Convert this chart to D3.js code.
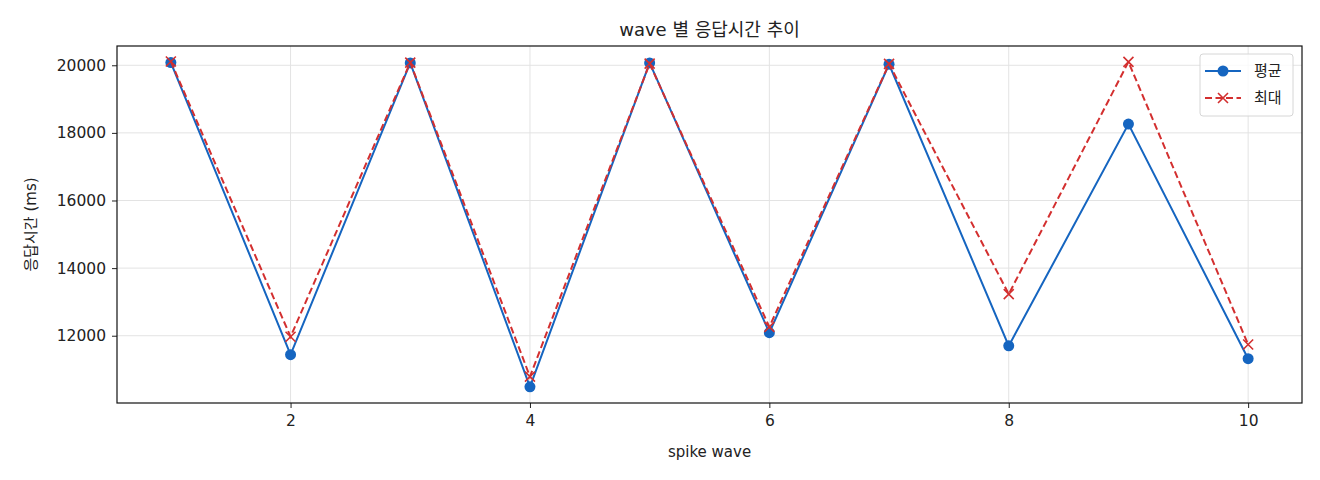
<!DOCTYPE html>
<html>
<head>
<meta charset="utf-8">
<script src="https://cdn.jsdelivr.net/npm/d3@7"></script>
<style>
  body { margin: 0; background: #fff; }
  svg text { font-family: "DejaVu Sans", "Noto Sans CJK KR", sans-serif; fill: #222; }
</style>
</head>
<body>
<svg id="chart" width="1320" height="480"></svg>
<script>
// spike wave index
var waves = [1, 2, 3, 4, 5, 6, 7, 8, 9, 10];
// response times (ms)
var avgMs = [20080, 11440, 20070, 10490, 20070, 12090, 20030, 11700, 18260, 11320];
var maxMs = [20110, 11970, 20080, 10790, 20050, 12260, 20040, 13230, 20100, 11740];
var xTicks = [2, 4, 6, 8, 10];
var yTicks = [12000, 14000, 16000, 18000, 20000];

var svg = d3.select('#chart');
var plotL = 117, plotR = 1302, plotT = 46, plotB = 403;
var fontStack = '"DejaVu Sans", "Noto Sans CJK KR", sans-serif';

var x = d3.scaleLinear().domain([0.55, 10.45]).range([plotL, plotR]);
var y = d3.scaleLinear().domain([10010, 20570]).range([plotB, plotT]);

var blue = "#1565c0", red = "#d32f2f";

// grid
svg.append("g").selectAll("line").data(xTicks).enter().append("line")
    .attr("x1", function(d){ return x(d); }).attr("x2", function(d){ return x(d); })
    .attr("y1", plotT).attr("y2", plotB)
    .attr("stroke", "#e3e3e3").attr("stroke-width", 1);
svg.append("g").selectAll("line").data(yTicks).enter().append("line")
    .attr("y1", function(d){ return y(d); }).attr("y2", function(d){ return y(d); })
    .attr("x1", plotL).attr("x2", plotR)
    .attr("stroke", "#e3e3e3").attr("stroke-width", 1);

// axes
var xAxis = d3.axisBottom(x).tickValues(xTicks).tickSize(5).tickPadding(7);
var yAxis = d3.axisLeft(y).tickValues(yTicks).tickSize(5).tickPadding(6).tickFormat(d3.format("d"));

var gx = svg.append("g").attr("transform", "translate(0," + plotB + ")").call(xAxis);
var gy = svg.append("g").attr("transform", "translate(" + plotL + ",0)").call(yAxis);
[gx, gy].forEach(function(g){
    g.select(".domain").remove();
    g.selectAll("line").attr("stroke", "#222");
    g.selectAll("text").attr("font-size", "15.5px").style("font-family", fontStack).attr("fill", "#222");
});

// frame
svg.append("rect").attr("x", plotL).attr("y", plotT)
    .attr("width", plotR - plotL).attr("height", plotB - plotT)
    .attr("fill", "none").attr("stroke", "#111").attr("stroke-width", 1.2);

var line = d3.line().x(function(d, i){ return x(waves[i]); }).y(function(d){ return y(d); });

// average series
svg.append("path").datum(avgMs).attr("d", line)
    .attr("fill", "none").attr("stroke", blue).attr("stroke-width", 2);
svg.append("g").selectAll("circle").data(avgMs).enter().append("circle")
    .attr("cx", function(d, i){ return x(waves[i]); })
    .attr("cy", function(d){ return y(d); })
    .attr("r", 5.5).attr("fill", blue);

// max series
svg.append("path").datum(maxMs).attr("d", line)
    .attr("fill", "none").attr("stroke", red).attr("stroke-width", 2)
    .attr("stroke-dasharray", "7,3.5");
function cross(g, cx, cy) {
    var s = 5;
    g.append("path")
        .attr("d", "M" + (cx - s) + "," + (cy - s) + "L" + (cx + s) + "," + (cy + s) +
                   "M" + (cx - s) + "," + (cy + s) + "L" + (cx + s) + "," + (cy - s))
        .attr("stroke", red).attr("stroke-width", 1.6).attr("fill", "none");
}
var gm = svg.append("g");
maxMs.forEach(function(d, i){ cross(gm, x(waves[i]), y(d)); });

// title and labels
svg.append("text").text("wave 별 응답시간 추이")
    .attr("x", (plotL + plotR) / 2).attr("y", 36)
    .attr("text-anchor", "middle").attr("font-size", "18px");
svg.append("text").text("spike wave")
    .attr("x", (plotL + plotR) / 2).attr("y", 457)
    .attr("text-anchor", "middle").attr("font-size", "15px");
svg.append("text").text("응답시간 (ms)")
    .attr("transform", "translate(36," + ((plotT + plotB) / 2) + ") rotate(-90)")
    .attr("text-anchor", "middle").attr("font-size", "15px");

// legend
var lg = svg.append("g").attr("transform", "translate(1200,54)");
lg.append("rect").attr("width", 93).attr("height", 62).attr("rx", 3)
    .attr("fill", "#fff").attr("fill-opacity", 0.8).attr("stroke", "#d6d6d6");
lg.append("line").attr("x1", 5).attr("x2", 41).attr("y1", 17).attr("y2", 17)
    .attr("stroke", blue).attr("stroke-width", 2);
lg.append("circle").attr("cx", 23).attr("cy", 17).attr("r", 5.5).attr("fill", blue);
lg.append("line").attr("x1", 5).attr("x2", 41).attr("y1", 44).attr("y2", 44)
    .attr("stroke", red).attr("stroke-width", 2).attr("stroke-dasharray", "7,3.5");
cross(lg, 23, 44);
lg.append("text").text("평균").attr("x", 54).attr("y", 22).attr("font-size", "15px");
lg.append("text").text("최대").attr("x", 54).attr("y", 49).attr("font-size", "15px");
</script>
</body>
</html>
